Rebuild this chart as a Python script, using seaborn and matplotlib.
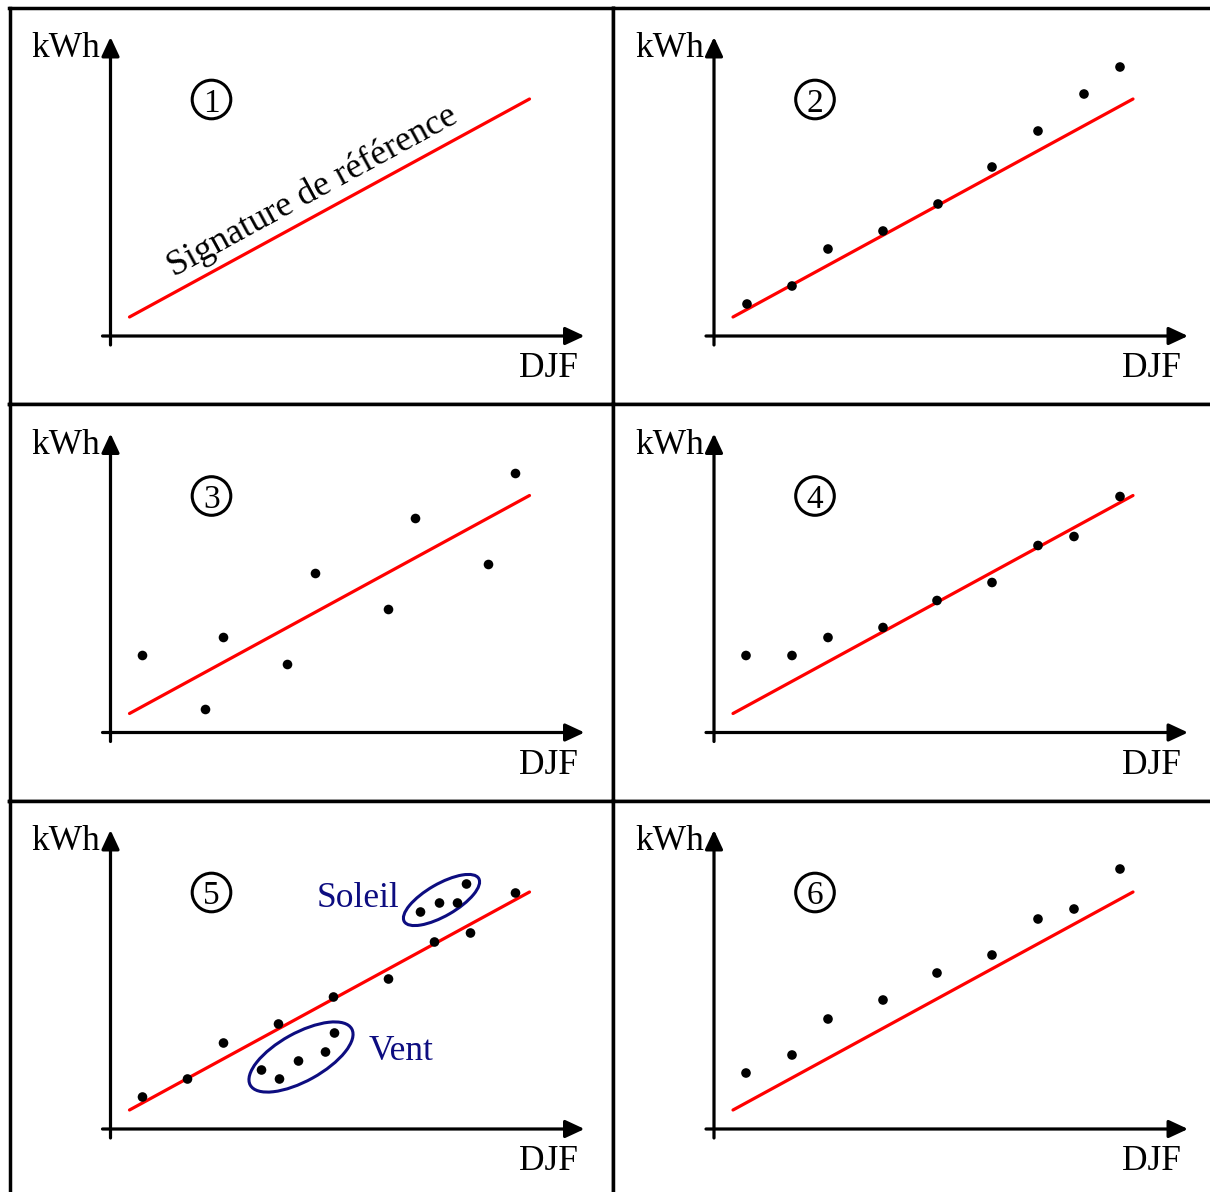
import matplotlib
matplotlib.use("Agg")
import matplotlib.pyplot as plt
from matplotlib.patches import Circle, Ellipse
import seaborn as sns

# reference signature (same line in every panel)
ref_djf = [19, 419]
ref_kwh = [19, 237]

# panel 2
djf_2 = [33, 78, 114, 169, 224, 278, 324, 370, 406]
kwh_2 = [32, 50, 87, 105, 132, 169, 205, 242, 269]
# panel 3
djf_3 = [32, 95, 113, 177, 205, 278, 305, 378, 405]
kwh_3 = [77, 23, 95, 68, 159, 123, 214, 168, 259]
# panel 4
djf_4 = [32, 78, 114, 169, 223, 278, 324, 360, 406]
kwh_4 = [77, 77, 95, 105, 132, 150, 187, 196, 236]
# panel 5 : normal days, windy days, sunny days
djf_5 = [32, 77, 113, 168, 223, 278, 324, 360, 405]
kwh_5 = [32, 50, 86, 105, 132, 150, 187, 196, 236]
djf_vent = [151, 169, 188, 215, 224]
kwh_vent = [59, 50, 68, 77, 96]
djf_soleil = [310, 329, 347, 356]
kwh_soleil = [217, 226, 226, 245]
# panel 6
djf_6 = [32, 78, 114, 169, 223, 278, 324, 360, 406]
kwh_6 = [56, 74, 110, 129, 156, 174, 210, 220, 260]

panel_points = {
    1: ([], []),
    2: (djf_2, kwh_2),
    3: (djf_3, kwh_3),
    4: (djf_4, kwh_4),
    5: (djf_5 + djf_vent + djf_soleil, kwh_5 + kwh_vent + kwh_soleil),
    6: (djf_6, kwh_6),
}

sns.set_theme(style="white")
plt.rcParams['font.family'] = ['Liberation Serif', 'DejaVu Serif']

W_PX, H_PX = 1210, 1192
CELL_W, CELL_H = 603.5, 396.5
LEFT0, TOP0 = 9.5, 7.5
OX, OY = 101, 328.5
NAVY = '#0d0d80'

fig = plt.figure(figsize=(W_PX / 100, H_PX / 100), dpi=100)

for n in range(1, 7):
    r, c = (n - 1) // 2, (n - 1) % 2
    left = LEFT0 + c * CELL_W
    top = TOP0 + r * CELL_H
    ax = fig.add_axes([left / W_PX, 1 - (top + CELL_H) / H_PX, CELL_W / W_PX, CELL_H / H_PX])
    ax.set_xlim(-OX, CELL_W - OX)
    ax.set_ylim(OY - CELL_H, OY)
    ax.set_xticks([])
    ax.set_yticks([])
    for sp in ax.spines.values():
        sp.set_visible(True)
        sp.set_color('black')
        sp.set_linewidth(2.5)

    # axes with arrows
    arrow = dict(arrowstyle='-|>,head_length=0.58,head_width=0.27', lw=2.3,
                 color='black', mutation_scale=20, shrinkA=0, shrinkB=0)
    ax.annotate('', xy=(474, 0), xytext=(-8, 0), arrowprops=arrow)
    ax.annotate('', xy=(0, 299), xytext=(0, -9), arrowprops=arrow)
    ax.text(-10, 279, 'kWh', ha='right', va='baseline', fontsize=25.5, color='black')
    ax.text(467, -41, 'DJF', ha='right', va='baseline', fontsize=25.5, color='black')

    # circled number
    ax.add_patch(Circle((101, 236.5), 19.3, fill=False, edgecolor='black', lw=2.2))
    ax.text(101, 224.5, str(n), ha='center', va='baseline', fontsize=24, color='black')

    sns.lineplot(x=ref_djf, y=ref_kwh, ax=ax, color='red', lw=2.3, sort=False)
    xs, ys = panel_points[n]
    if xs:
        sns.scatterplot(x=xs, y=ys, ax=ax, color='black', s=48, edgecolor='none', zorder=3)
    ax.set_xlabel('')
    ax.set_ylabel('')

    if n == 1:
        ax.text(206, 137, 'Signature de référence', rotation=28.6, rotation_mode='anchor',
                ha='center', va='baseline', fontsize=26, color='black')
    if n == 5:
        ax.add_patch(Ellipse((190.5, 72), 116, 48, angle=29, fill=False, edgecolor=NAVY, lw=2.2))
        ax.add_patch(Ellipse((331, 229), 86, 32, angle=30, fill=False, edgecolor=NAVY, lw=2.2))
        ax.text(289, 222, 'Soleil', ha='right', va='baseline', fontsize=25.5, color=NAVY)
        ax.text(258, 69, 'Vent', ha='left', va='baseline', fontsize=25.5, color=NAVY)

fig.savefig('out.png', dpi=100)
